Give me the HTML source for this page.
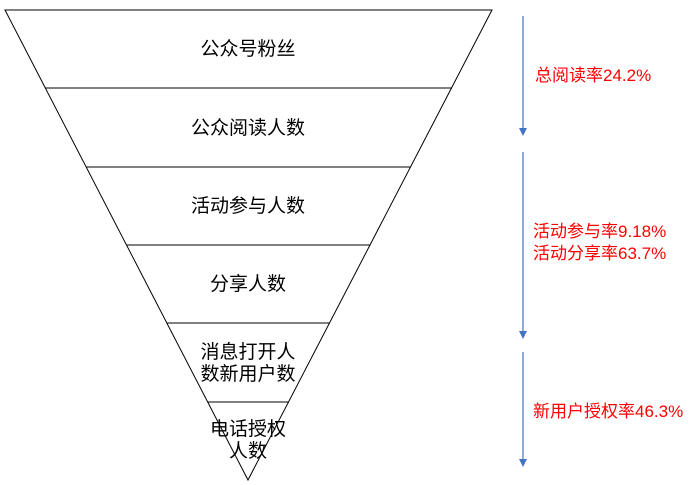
<!DOCTYPE html>
<html><head><meta charset="utf-8"><style>
html,body{margin:0;padding:0;background:#fff;width:693px;height:485px;overflow:hidden}
text{font-family:"Liberation Sans","Noto Sans CJK SC",sans-serif;font-size:17px}
.b text{font-size:19px}
</style></head><body>
<svg width="693" height="485" viewBox="0 0 693 485" xmlns="http://www.w3.org/2000/svg">
<polygon points="5,10 492,10 248,480" fill="#fff" stroke="#000" stroke-width="1"/>
<g stroke="#000" stroke-width="1">
<line x1="45.5" y1="88" x2="452" y2="88"/>
<line x1="86.5" y1="167" x2="411" y2="167"/>
<line x1="126.8" y1="245" x2="370.6" y2="245"/>
<line x1="167.2" y1="323" x2="330" y2="323"/>
<line x1="208" y1="402" x2="289" y2="402"/>
</g>
<g class="b" fill="#000" text-anchor="middle">
<text x="248" y="55">公众号粉丝</text>
<text x="248" y="134">公众阅读人数</text>
<text x="248" y="212">活动参与人数</text>
<text x="248" y="290">分享人数</text>
<text x="248" y="358">消息打开人</text>
<text x="248" y="380">数新用户数</text>
<text x="248" y="435">电话授权</text>
<text x="248" y="457">人数</text>
</g>
<g stroke="#4472c4" stroke-width="1.2">
<line x1="523" y1="16" x2="523" y2="130"/>
<line x1="523" y1="152" x2="523" y2="333"/>
<line x1="523" y1="352" x2="523" y2="461"/>
</g>
<g fill="#4472c4">
<polygon points="519,128 527,128 523,136"/>
<polygon points="519,331 527,331 523,339"/>
<polygon points="519,459 527,459 523,467"/>
</g>
<g fill="#ff0000">
<text x="535" y="81">总阅读率24.2%</text>
<text x="533" y="237">活动参与率9.18%</text>
<text x="533" y="259">活动分享率63.7%</text>
<text x="533" y="417">新用户授权率46.3%</text>
</g>
</svg>
</body></html>
